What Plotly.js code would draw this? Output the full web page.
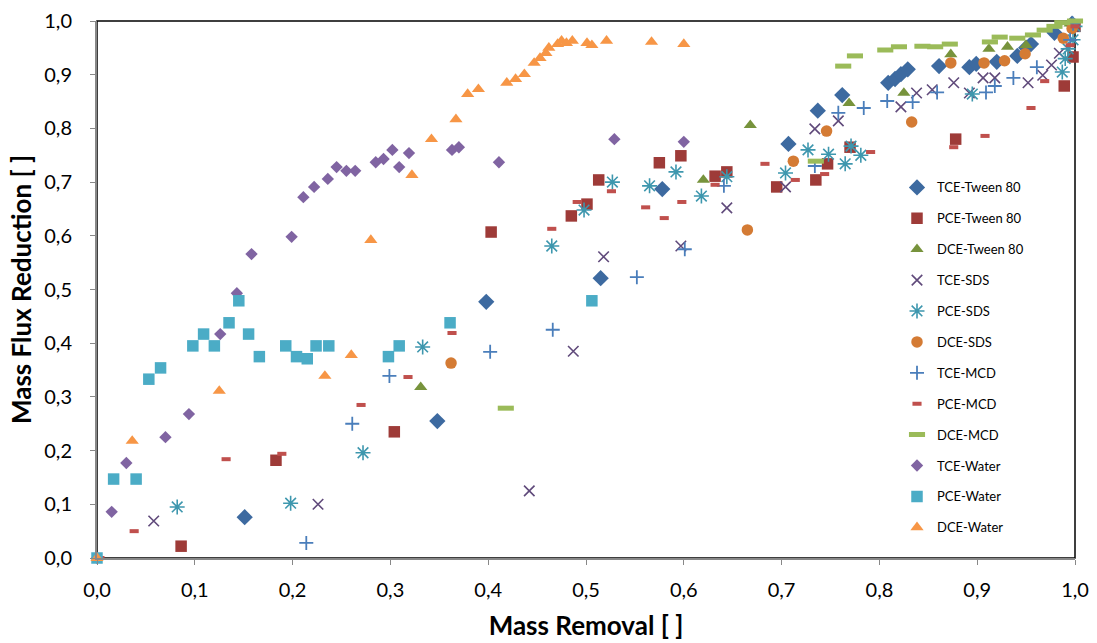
<!DOCTYPE html>
<html>
<head>
<meta charset="utf-8">
<script src="https://cdn.plot.ly/plotly-3.0.1.min.js"></script>
<style>html,body{margin:0;padding:0;background:#fff;}#chart{width:1097px;height:643px;}</style>
</head>
<body>
<div id="chart"></div>
<script>
// ---- Data (x = mass removal, y = mass flux reduction) ----
const tceTweenX = [0.151,0.348,0.398,0.515,0.578,0.707,0.737,0.762,0.809,0.816,0.822,0.829,0.861,0.892,0.899,0.920,0.941,0.950,0.955,0.979,0.997];
const tceTweenY = [0.076,0.255,0.477,0.521,0.687,0.771,0.833,0.862,0.885,0.892,0.901,0.910,0.916,0.914,0.920,0.924,0.935,0.950,0.957,0.978,0.995];

const pceTweenX = [0.086,0.183,0.304,0.403,0.485,0.501,0.513,0.575,0.597,0.632,0.644,0.695,0.735,0.747,0.770,0.878,0.989,0.998,1.000];
const pceTweenY = [0.022,0.182,0.235,0.607,0.637,0.659,0.704,0.736,0.749,0.711,0.719,0.691,0.704,0.734,0.765,0.780,0.879,0.933,0.990];

const dceTweenX = [0.331,0.620,0.668,0.769,0.825,0.873,0.912,0.931,0.950,0.995];
const dceTweenY = [0.318,0.704,0.806,0.847,0.866,0.938,0.948,0.952,0.955,0.995];

const tceSdsX = [0.058,0.226,0.442,0.487,0.518,0.597,0.644,0.704,0.734,0.758,0.822,0.838,0.854,0.876,0.892,0.906,0.918,0.952,0.967,0.976,0.984,0.998];
const tceSdsY = [0.069,0.100,0.125,0.385,0.561,0.581,0.652,0.691,0.799,0.814,0.840,0.866,0.872,0.885,0.866,0.894,0.894,0.885,0.899,0.918,0.940,0.990];

const pceSdsX = [0.082,0.198,0.272,0.333,0.465,0.498,0.527,0.565,0.592,0.618,0.644,0.704,0.727,0.748,0.765,0.771,0.781,0.895,0.987,0.990,0.993,0.998,1.000];
const pceSdsY = [0.095,0.102,0.196,0.393,0.581,0.648,0.700,0.693,0.719,0.674,0.710,0.717,0.760,0.752,0.734,0.767,0.750,0.864,0.905,0.930,0.948,0.965,0.990];

const dceSdsX = [0.362,0.665,0.712,0.746,0.833,0.873,0.907,0.928,0.949,0.988,0.997];
const dceSdsY = [0.363,0.611,0.739,0.795,0.812,0.922,0.922,0.926,0.939,0.968,0.986];

const tceMcdX = [0.214,0.261,0.299,0.402,0.466,0.552,0.601,0.641,0.734,0.758,0.784,0.808,0.834,0.859,0.909,0.918,0.937,0.961,0.995,0.998];
const tceMcdY = [0.028,0.250,0.339,0.384,0.425,0.523,0.575,0.693,0.730,0.829,0.838,0.851,0.849,0.867,0.867,0.879,0.894,0.914,0.965,0.995];

const pceMcdX = [0.003,0.038,0.132,0.189,0.270,0.318,0.363,0.465,0.491,0.526,0.561,0.580,0.598,0.632,0.683,0.714,0.744,0.791,0.876,0.908,0.955,0.969,0.995,1.000];
const pceMcdY = [0.000,0.050,0.184,0.194,0.285,0.337,0.419,0.613,0.663,0.683,0.653,0.633,0.663,0.695,0.734,0.704,0.715,0.756,0.765,0.786,0.838,0.888,0.955,0.990];

const dceMcdX = [0.418,0.735,0.763,0.775,0.806,0.820,0.844,0.857,0.872,0.913,0.923,0.941,0.957,0.969,0.979,0.987,1.000];
const dceMcdY = [0.279,0.739,0.916,0.935,0.946,0.952,0.953,0.952,0.957,0.961,0.970,0.968,0.974,0.983,0.990,0.997,1.000];

const tceWaterX = [0.000,0.015,0.030,0.070,0.094,0.126,0.143,0.158,0.199,0.211,0.222,0.236,0.245,0.255,0.264,0.285,0.293,0.302,0.309,0.319,0.363,0.370,0.411,0.529,0.600];
const tceWaterY = [0.000,0.086,0.177,0.225,0.268,0.417,0.493,0.566,0.598,0.672,0.691,0.706,0.728,0.721,0.721,0.737,0.743,0.760,0.728,0.754,0.760,0.765,0.737,0.780,0.775];

const pceWaterX = [0.000,0.017,0.040,0.053,0.065,0.098,0.109,0.120,0.135,0.145,0.155,0.166,0.193,0.204,0.215,0.224,0.237,0.298,0.309,0.361,0.506];
const pceWaterY = [0.000,0.147,0.147,0.333,0.354,0.395,0.417,0.395,0.438,0.479,0.417,0.375,0.395,0.375,0.371,0.395,0.395,0.375,0.395,0.438,0.479];

const dceWaterX = [0.000,0.036,0.125,0.233,0.260,0.280,0.322,0.342,0.367,0.379,0.390,0.419,0.428,0.437,0.447,0.453,0.459,0.462,0.471,0.475,0.480,0.486,0.501,0.506,0.521,0.567,0.600];
const dceWaterY = [0.000,0.218,0.311,0.339,0.378,0.592,0.713,0.780,0.817,0.864,0.873,0.885,0.892,0.901,0.922,0.931,0.940,0.950,0.957,0.963,0.959,0.963,0.959,0.955,0.963,0.961,0.957];

const seriesNames = ["TCE-Tween 80","PCE-Tween 80","DCE-Tween 80","TCE-SDS","PCE-SDS","DCE-SDS","TCE-MCD","PCE-MCD","DCE-MCD","TCE-Water","PCE-Water","DCE-Water"];
const xTickVals = [0,0.1,0.2,0.3,0.4,0.5,0.6,0.7,0.8,0.9,1.0];
const xTickText = ["0,0","0,1","0,2","0,3","0,4","0,5","0,6","0,7","0,8","0,9","1,0"];
const yTickVals = [0,0.1,0.2,0.3,0.4,0.5,0.6,0.7,0.8,0.9,1.0];
const yTickText = ["0,0","0,1","0,2","0,3","0,4","0,5","0,6","0,7","0,8","0,9","1,0"];

// ---- Styles ----
const styles = [
  {symbol:"diamond", size:12.5, color:"#3D6AA0"},
  {symbol:"square", size:11.5, color:"#9E3B38"},
  {symbol:"triangle-up", size:11.5, color:"#77933C"},
  {symbol:"x-thin-open", size:10.5, color:"#604A7B", lw:1.6},
  {symbol:"asterisk-open", size:12.5, color:"#3E97AE", lw:1.6},
  {symbol:"circle", size:11.5, color:"#D47B34"},
  {symbol:"cross-thin-open", size:10, color:"#4A7EBB", lw:1.8},
  {symbol:"line-ew-open", size:6.5, color:"#C0504D", lw:4},
  {symbol:"line-ew-open", size:11.5, color:"#9BBB59", lw:5},
  {symbol:"diamond", size:9.5, color:"#8064A2"},
  {symbol:"square", size:11.5, color:"#4BACC6"},
  {symbol:"triangle-up", size:11.5, color:"#F79646"}
];
const xs = [tceTweenX,pceTweenX,dceTweenX,tceSdsX,pceSdsX,dceSdsX,tceMcdX,pceMcdX,dceMcdX,tceWaterX,pceWaterX,dceWaterX];
const ys = [tceTweenY,pceTweenY,dceTweenY,tceSdsY,pceSdsY,dceSdsY,tceMcdY,pceMcdY,dceMcdY,tceWaterY,pceWaterY,dceWaterY];

const traces = seriesNames.map((n,i)=>{
  const s = styles[i];
  const m = {symbol:s.symbol, size:s.size, color:s.color};
  if (s.lw) m.line = {width:s.lw, color:s.color}; else m.line = {width:0};
  return {type:"scatter", mode:"markers", name:n, x:xs[i], y:ys[i], marker:m,
          cliponaxis:false, legendgroup:"g"+i, showlegend:true};
});
const font = "Lato, 'Open Sans', sans-serif";
const layout = {
  width:1097, height:643,
  margin:{l:97, r:22, t:21, b:85},
  paper_bgcolor:"#fff", plot_bgcolor:"#fff",
  separators:",.",
  showlegend:true,
  legend:{x:0.818, y:0.718, xanchor:"left", yanchor:"top", bgcolor:"rgba(0,0,0,0)",
          font:{family:font, size:13, color:"#000"}, tracegroupgap:11, itemwidth:30},
  xaxis:{range:[0,1], tickvals:xTickVals, ticktext:xTickText, showgrid:false, zeroline:false,
         showline:true, linecolor:"#888", linewidth:2, ticks:"outside", ticklen:5, tickcolor:"#888",
         ticklabelstandoff:8,
         tickfont:{family:font, size:20, color:"#000"},
         title:{text:"Mass Removal [ ]", font:{family:font, size:26, color:"#000", weight:"bold"}, standoff:17}},
  yaxis:{range:[0,1], tickvals:yTickVals, ticktext:yTickText, showgrid:false, zeroline:false,
         showline:true, linecolor:"#888", linewidth:2, ticks:"outside", ticklen:5, tickcolor:"#888",
         ticklabelstandoff:14,
         tickfont:{family:font, size:20, color:"#000"},
         title:{text:"Mass Flux Reduction [ ]", font:{family:font, size:26, color:"#000", weight:"bold"}, standoff:5}},
  shapes:[{type:"rect", xref:"paper", yref:"paper", x0:0, x1:1, y0:0, y1:1, layer:"below",
           line:{color:"#000", width:1.5}}]
};
Plotly.newPlot("chart", traces, layout, {displayModeBar:false, staticPlot:true});
</script>
</body>
</html>
